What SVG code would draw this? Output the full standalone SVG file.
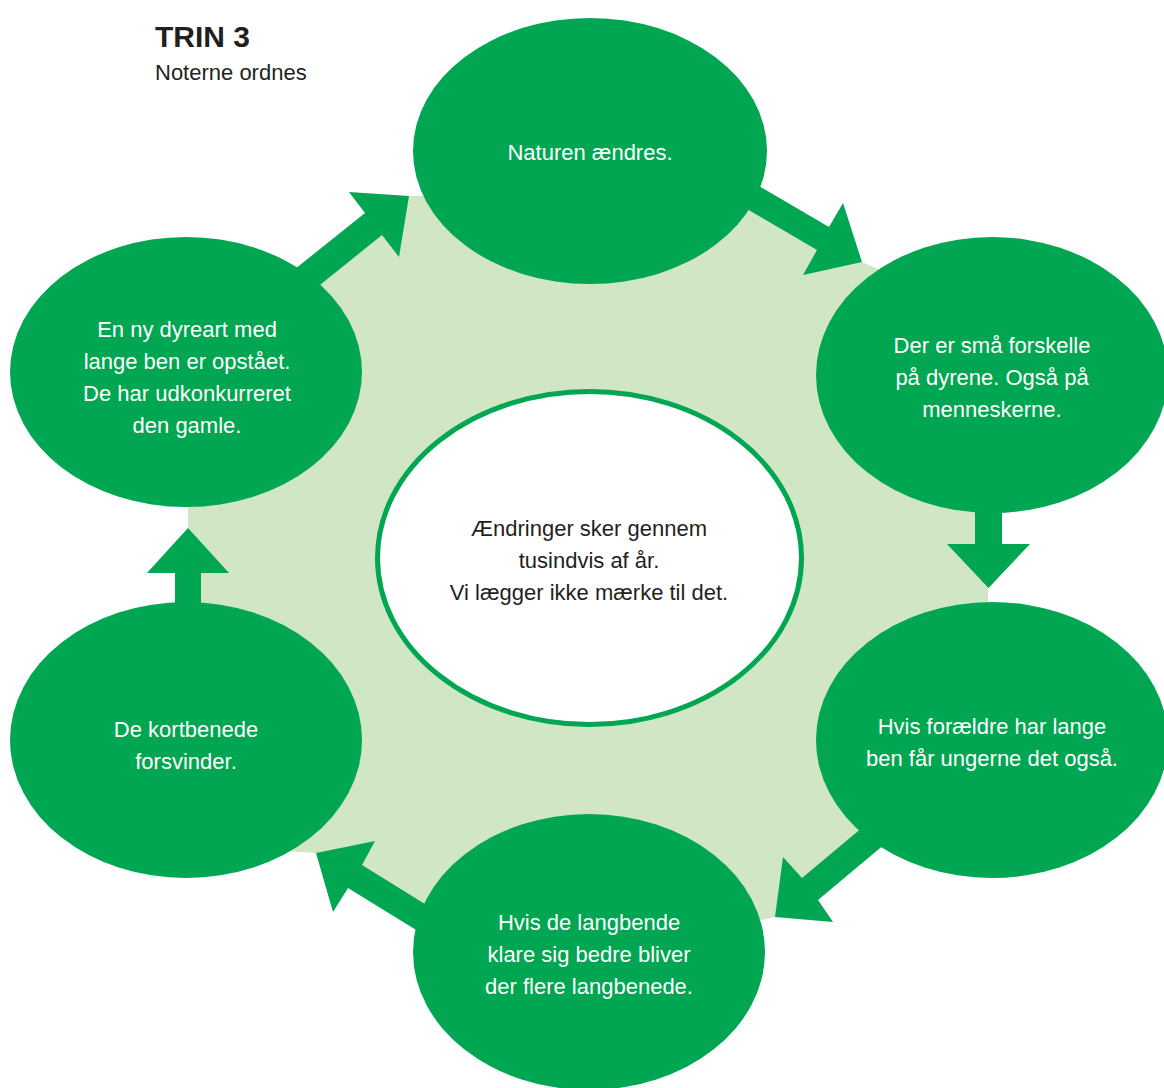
<svg xmlns="http://www.w3.org/2000/svg" width="1164" height="1088" viewBox="0 0 1164 1088">
<style>
.bubble{fill:#00A651}
.arrow{fill:#00A651}
.t{font-family:"Liberation Sans",Arial,sans-serif;font-size:22px;text-anchor:middle}
.w{fill:#FFFFFF}
.d{fill:#231F20}
</style>
<rect width="1164" height="1088" fill="#FFFFFF"/>
<g id="title">
<text x="155" y="47" font-family="Liberation Sans, Arial, sans-serif" font-size="30" font-weight="bold" fill="#231F20">TRIN 3</text>
<text x="155" y="80" font-family="Liberation Sans, Arial, sans-serif" font-size="22" fill="#231F20">Noterne ordnes</text>
</g>
<polygon id="background" fill="#D0E6C5" points="409,196 430,196 470,120 710,120 733,185 862,262 905,281 988,500 988,620 891,825 775,917 740,925 480,954 316,853 270,850 188,640 188,480 286,296"/>
<g id="connectors">
<polygon class="arrow" points="280,281 365,213 349,192 409,196 399,257 382,235 300,301"/>
<polygon class="arrow" points="740,175 829,227 843,203 862,262 803,275 817,250 730,199"/>
<polygon class="arrow" points="975,490 1002,490 1002,544 1030,544 988.5,588 947,544 975,544"/>
<polygon class="arrow" points="900,796 802,878 783,857 775,917 833,922 818,900 910,823"/>
<polygon class="arrow" points="470,932 362,865 375,841 316,853 333,912 348,888 460,957"/>
<polygon class="arrow" points="175,620 175,573 147,573 188,528 229,573 201,573 201,620"/>
</g>
<g id="node-top">
<ellipse class="bubble" cx="590" cy="151" rx="177" ry="133"/>
<text class="t w" x="590" y="160">Naturen ændres.</text>
</g>
<g id="node-right-top">
<ellipse class="bubble" cx="992" cy="375" rx="176" ry="138"/>
<text class="t w" x="992" y="353">Der er små forskelle</text>
<text class="t w" x="992" y="385">på dyrene. Også på</text>
<text class="t w" x="992" y="417">menneskerne.</text>
</g>
<g id="node-right-bottom">
<ellipse class="bubble" cx="992" cy="740" rx="176" ry="138"/>
<text class="t w" x="992" y="734">Hvis forældre har lange</text>
<text class="t w" x="992" y="766">ben får ungerne det også.</text>
</g>
<g id="node-bottom">
<ellipse class="bubble" cx="589" cy="952" rx="176" ry="138"/>
<text class="t w" x="589" y="930">Hvis de langbende</text>
<text class="t w" x="589" y="962">klare sig bedre bliver</text>
<text class="t w" x="589" y="994">der flere langbenede.</text>
</g>
<g id="node-left-bottom">
<ellipse class="bubble" cx="186" cy="740" rx="176" ry="138"/>
<text class="t w" x="186" y="737">De kortbenede</text>
<text class="t w" x="186" y="769">forsvinder.</text>
</g>
<g id="node-left-top">
<ellipse class="bubble" cx="186" cy="372" rx="176" ry="135"/>
<text class="t w" x="187" y="337">En ny dyreart med</text>
<text class="t w" x="187" y="369">lange ben er opstået.</text>
<text class="t w" x="187" y="401">De har udkonkurreret</text>
<text class="t w" x="187" y="433">den gamle.</text>
</g>
<g id="node-center">
<ellipse cx="589.5" cy="558" rx="212" ry="166.5" fill="#FFFFFF" stroke="#00A651" stroke-width="5"/>
<text class="t d" x="589" y="536">Ændringer sker gennem</text>
<text class="t d" x="589" y="568">tusindvis af år.</text>
<text class="t d" x="589" y="600">Vi lægger ikke mærke til det.</text>
</g>
</svg>
